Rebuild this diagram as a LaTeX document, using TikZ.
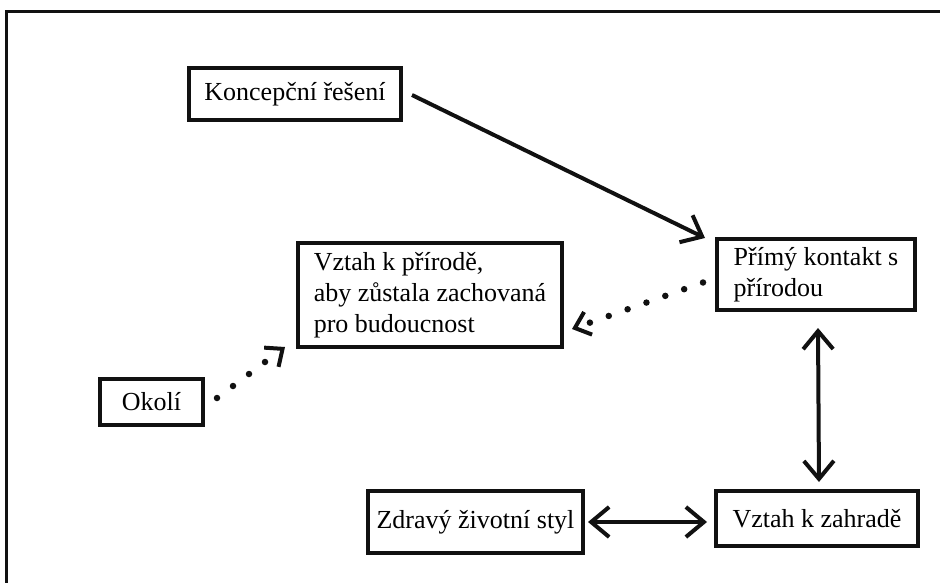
\documentclass[tikz,border=0pt]{standalone}
\usepackage{fontspec}
\setmainfont{Liberation Serif}
\usetikzlibrary{arrows.meta}
\definecolor{ink}{HTML}{111111}

\begin{document}
\begin{tikzpicture}[x=1pt,y=-1pt,font=\fontsize{26}{31}\selectfont,
  box/.style={draw=ink,line width=4pt,inner sep=0pt,align=left},
  tip/.style={-{Straight Barb[length=18pt,width=30pt,line width=4pt]}},
  dbl/.style={{Straight Barb[length=18pt,width=30pt,line width=4pt]}-{Straight Barb[length=18pt,width=30pt,line width=4pt]}},
  dots/.style={line width=6.5pt,line cap=round,dash pattern=on 0pt off 20pt,
    -{Straight Barb[length=14pt,width=24pt,line width=4pt]}}]
  \useasboundingbox (0,0) rectangle (940,583);
  \draw[ink,line width=3pt] (6,583)--(6,12)--(940,12);
  % boxes
  \node[box,minimum width=212,minimum height=52] (konc) at (295,94) {Koncepční řešení};
  \node[box,minimum width=198,minimum height=71] (primy) at (816,274.5)
       {Přímý kontakt s\\přírodou};
  \node[box,minimum width=264,minimum height=104] (vztahpr) at (430,295)
       {Vztah k přírodě,\\aby zůstala zachovaná\\pro budoucnost};
  \node[box,minimum width=103,minimum height=46] (okoli) at (151.5,402) {Okolí};
  \node[box,minimum width=202,minimum height=55] (zahrada) at (817,518.5) {Vztah k zahradě};
  \node[box,minimum width=215,minimum height=62] (zdravy) at (475.5,522) {Zdravý životní styl};
  % arrows
  \draw[ink,line width=4pt,tip] ([shift={(9,1)}]konc.east) -- ([shift={(-10,1)}]primy.north west);
  \draw[ink,dots] ([shift={(-12,8)}]primy.west) -- ([shift={(8,-20)}]vztahpr.south east);
  \draw[ink,dots] ([shift={(12,-4)}]okoli.east) -- ([shift={(-11,-2)}]vztahpr.south west);
  \draw[ink,line width=4pt,dbl] ([shift={(2,16)}]primy.south) -- ([shift={(2,-7)}]zahrada.north);
  \draw[ink,line width=4pt,dbl] ([shift={(3,0)}]zdravy.east) -- ([shift={(-7,0)}]zdravy.east -| zahrada.west);
\end{tikzpicture}
\end{document}
